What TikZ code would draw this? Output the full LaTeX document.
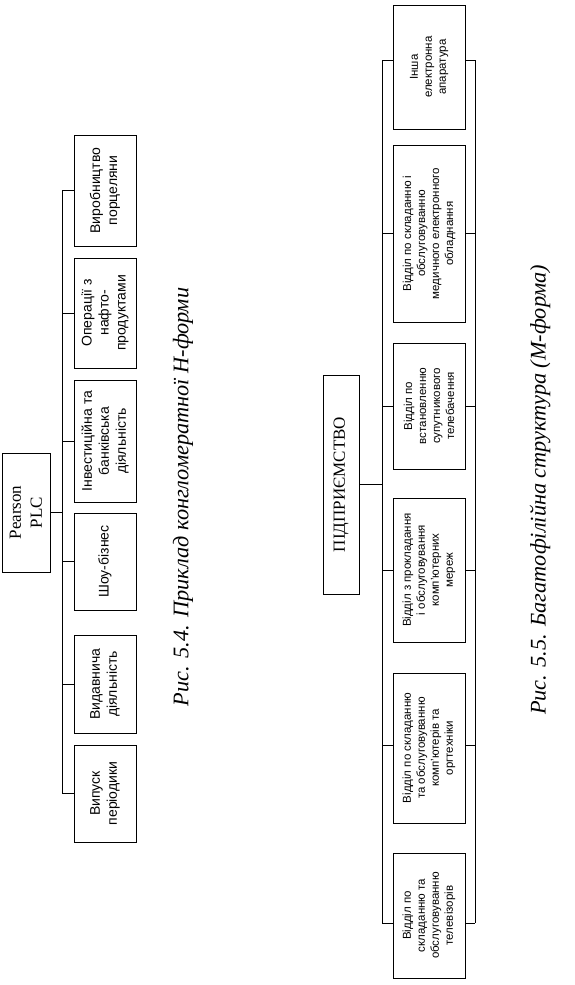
\documentclass[tikz,border=0pt]{standalone}
\usepackage{fontspec}
\setmainfont{Liberation Serif}
\setsansfont{Liberation Sans}
\begin{document}
\begin{tikzpicture}[x=1pt,y=-1pt,line width=1pt,
  hbox/.style={draw,rotate=90,inner sep=0pt,align=center,font=\sffamily\fontsize{14}{17}\selectfont},
  mbox/.style={draw,rotate=90,inner sep=0pt,align=center,minimum height=72pt,font=\sffamily\fontsize{11.5}{14}\selectfont},
  capt/.style={rotate=90,inner sep=0pt,font=\rmfamily\itshape\fontsize{22.3}{26}\selectfont},
  link/.style={draw,line width=1pt}]
\useasboundingbox (0,0) rectangle (575,985);

% ---------- Fig 5.4 ----------
\node[hbox,minimum width=119pt,minimum height=48pt,font=\rmfamily\fontsize{17}{21}\selectfont] (pear) at (26,512.5) {Pearson\\PLC};
\node[hbox,minimum width=111pt,minimum height=62pt] (por) at (105,190.5) {Виробництво\\порцеляни};
\node[hbox,minimum width=110pt,minimum height=62pt] (naf) at (105,313) {Операції з\\нафто-\\продуктами};
\node[hbox,minimum width=122pt,minimum height=62pt] (inv) at (105,441) {Інвестиційна та\\банківська\\діяльність};
\node[hbox,minimum width=97pt,minimum height=62pt] (shou) at (105,561.5) {Шоу-бізнес};
\node[hbox,minimum width=98pt,minimum height=62pt] (vyd) at (105,684) {Видавнича\\діяльність};
\node[hbox,minimum width=97pt,minimum height=62pt] (vyp) at (105,793.5) {Випуск\\періодики};
\coordinate (bus) at (62,0);
\draw[link] (por.north -| bus) -- (vyp.north -| bus);
\foreach \n in {por,naf,inv,shou,vyd,vyp} \draw[link] (\n.north) -- (\n.north -| bus);
\draw[link] (pear.south) -- (pear.south -| bus);
\node[capt] (cap1) at (183,497) {Рис. 5.4. Приклад конгломератної Н-форми};

% ---------- Fig 5.5 ----------
\node[draw,rotate=90,inner sep=0pt,minimum width=219pt,minimum height=36pt,font=\rmfamily\fontsize{17}{19}\selectfont] (ent) at (341,484.5) {ПІДПРИЄМСТВО};
\node[mbox,minimum width=124pt] (b1) at (429,67) {Інша\\електронна\\апаратура};
\node[mbox,minimum width=177pt] (b2) at (429,233.5) {Відділ по складанню і\\обслуговуванню\\медичного електронного\\обладнання};
\node[mbox,minimum width=126pt] (b3) at (429,406) {Відділ по\\встановленню\\супутникового\\телебачення};
\node[mbox,minimum width=144pt] (b4) at (429,570) {Відділ з прокладання\\і обслуговування\\комп’ютерних\\мереж};
\node[mbox,minimum width=150pt] (b5) at (429,748) {Відділ по складанню\\та обслуговуванню\\комп’ютерів та\\оргтехніки};
\node[mbox,minimum width=125pt] (b6) at (429,915.5) {Відділ по\\складанню та\\обслуговуванню\\телевізорів};
\coordinate (busL) at (382,0);
\coordinate (busR) at (475,0);
\coordinate (c1) at ([yshift=7pt]b1.center);
\coordinate (c2) at (b2.center);
\coordinate (c3) at (b3.center);
\coordinate (c4) at (b4.center);
\coordinate (c5) at ([yshift=3pt]b5.center);
\coordinate (c6) at ([yshift=-7.5pt]b6.center);
\draw[link] (c1 -| busL) -- (c6 -| busL);
\draw[link] (c1 -| busR) -- (c6 -| busR);
\draw[link] (c1 -| busL) -- (c1 -| b1.north);
\draw[link] (c1 -| b1.south) -- (c1 -| busR);
\draw[link] (c2 -| busL) -- (c2 -| b2.north);
\draw[link] (c2 -| b2.south) -- (c2 -| busR);
\draw[link] (c3 -| busL) -- (c3 -| b3.north);
\draw[link] (c3 -| b3.south) -- (c3 -| busR);
\draw[link] (c4 -| busL) -- (c4 -| b4.north);
\draw[link] (c4 -| b4.south) -- (c4 -| busR);
\draw[link] (c5 -| busL) -- (c5 -| b5.north);
\draw[link] (c5 -| b5.south) -- (c5 -| busR);
\draw[link] (c6 -| busL) -- (c6 -| b6.north);
\draw[link] (c6 -| b6.south) -- (c6 -| busR);
\draw[link] (ent.south) -- (ent.south -| busL);
\node[capt] (cap2) at (540,490) {Рис. 5.5. Багатофілійна структура (М-форма)};
\end{tikzpicture}
\end{document}
